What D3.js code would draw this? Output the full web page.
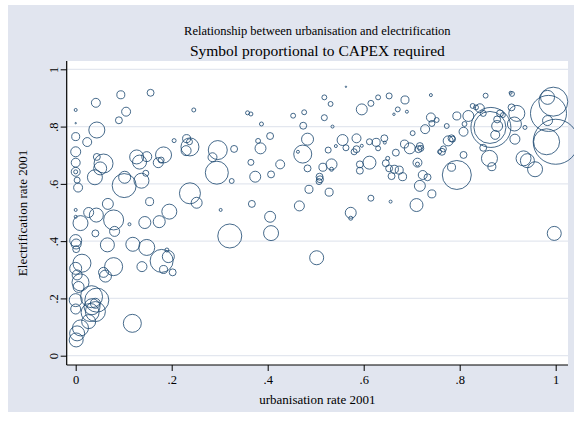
<!DOCTYPE html>
<html>
<head>
<meta charset="utf-8">
<script src="https://cdn.jsdelivr.net/npm/d3@7"></script>
<style>
  html, body { margin: 0; padding: 0; background: #ffffff; }
  svg { display: block; }
  text { font-family: "Liberation Serif", "DejaVu Serif", serif; fill: #000; }
</style>
</head>
<body>
<svg id="chart" width="574" height="421"></svg>
<script>
// Urbanisation rate 2001 (share of population), one value per district
const urbanisation = [
  0.000, 0.000, 0.000, 0.024, 0.044, 0.042, 0.094, 0.105, 0.090, 0.156,
  0.000, 0.000, 0.000, 0.000, 0.003, 0.005, 0.044, 0.058, 0.051, 0.040,
  0.102, 0.101, 0.137, 0.127, 0.133, 0.148, 0.146, 0.067, 0.154, 0.000,
  0.000, 0.010, 0.027, 0.043, 0.079, 0.081, 0.041, 0.112, 0.144, 0.174,
  0.195, 0.000, 0.001, 0.001, 0.066, 0.119, 0.148, 0.138, 0.013, 0.000,
  0.079, 0.062, 0.058, 0.010, 0.006, 0.003, 0.033, 0.044, 0.000, 0.000,
  0.034, 0.030, 0.041, 0.027, 0.003, 0.001, 0.010, 0.118, 0.041,
  0.246, 0.205, 0.231, 0.237, 0.238, 0.230, 0.183, 0.172, 0.178, 0.238,
  0.252, 0.179, 0.193, 0.183, 0.202, 0.190,
  0.358, 0.365, 0.387, 0.453, 0.476, 0.474, 0.296, 0.285, 0.330, 0.294,
  0.325, 0.365, 0.374, 0.385, 0.380, 0.405, 0.407, 0.426, 0.473, 0.463,
  0.483, 0.483, 0.302, 0.367, 0.405, 0.466, 0.321, 0.407, 0.486, 0.502,
  0.563, 0.518, 0.531, 0.630, 0.653, 0.615, 0.596, 0.686, 0.671, 0.663,
  0.690, 0.740, 0.518, 0.535, 0.526, 0.542, 0.556, 0.563, 0.585, 0.596,
  0.585, 0.580, 0.612, 0.626, 0.630, 0.643, 0.644, 0.612, 0.592, 0.592,
  0.533, 0.533, 0.515, 0.508, 0.509, 0.507, 0.528, 0.615, 0.656, 0.573,
  0.573, 0.650, 0.646, 0.653, 0.664, 0.674, 0.658, 0.681, 0.667, 0.685,
  0.696, 0.714, 0.717, 0.719, 0.702, 0.728, 0.740, 0.742, 0.752, 0.712,
  0.712, 0.723, 0.733, 0.717, 0.742, 0.710, 0.758,
  0.854, 0.906, 0.909, 0.983, 0.995, 0.985, 1.000, 0.981, 0.983, 0.936,
  0.919, 0.908, 0.914, 0.915, 0.865, 0.863, 0.878, 0.878, 0.884, 0.890,
  0.874, 0.827, 0.834, 0.842, 0.849, 0.818, 0.794, 0.773, 0.810, 0.808,
  0.783, 0.785, 0.776, 0.766, 0.763, 0.808, 0.849, 0.862, 0.867, 0.794,
  0.783, 0.933, 0.941, 0.957, 0.997
];

// Electrification rate 2001 (share of households), same order
const electrification = [
  0.858, 0.812, 0.765, 0.746, 0.788, 0.883, 0.911, 0.852, 0.822, 0.918,
  0.712, 0.674, 0.642, 0.642, 0.613, 0.587, 0.694, 0.671, 0.654, 0.623,
  0.623, 0.594, 0.611, 0.694, 0.676, 0.695, 0.637, 0.530, 0.538, 0.509,
  0.485, 0.463, 0.500, 0.491, 0.474, 0.434, 0.427, 0.459, 0.465, 0.468,
  0.503, 0.402, 0.390, 0.372, 0.387, 0.389, 0.378, 0.311, 0.323, 0.305,
  0.311, 0.278, 0.291, 0.256, 0.240, 0.282, 0.206, 0.194, 0.194, 0.163,
  0.171, 0.151, 0.183, 0.119, 0.078, 0.055, 0.097, 0.113, 0.154,
  0.858, 0.751, 0.758, 0.747, 0.729, 0.716, 0.701, 0.674, 0.683, 0.567,
  0.534, 0.331, 0.346, 0.301, 0.291, 0.369,
  0.848, 0.844, 0.809, 0.838, 0.850, 0.803, 0.718, 0.693, 0.722, 0.639,
  0.610, 0.675, 0.625, 0.724, 0.750, 0.767, 0.633, 0.668, 0.704, 0.712,
  0.654, 0.756, 0.509, 0.530, 0.485, 0.523, 0.418, 0.428, 0.581, 0.342,
  0.939, 0.902, 0.879, 0.902, 0.907, 0.881, 0.860, 0.893, 0.860, 0.843,
  0.852, 0.910, 0.831, 0.800, 0.718, 0.732, 0.753, 0.726, 0.759, 0.733,
  0.721, 0.712, 0.747, 0.745, 0.724, 0.759, 0.744, 0.674, 0.668, 0.646,
  0.668, 0.651, 0.658, 0.625, 0.616, 0.608, 0.571, 0.550, 0.538, 0.499,
  0.480, 0.689, 0.672, 0.654, 0.651, 0.648, 0.627, 0.625, 0.709, 0.739,
  0.724, 0.721, 0.732, 0.724, 0.777, 0.791, 0.832, 0.811, 0.823, 0.674,
  0.669, 0.631, 0.623, 0.593, 0.565, 0.526, 0.712,
  0.908, 0.918, 0.914, 0.902, 0.887, 0.846, 0.747, 0.747, 0.821, 0.797,
  0.846, 0.867, 0.809, 0.756, 0.797, 0.797, 0.802, 0.825, 0.846, 0.840,
  0.771, 0.872, 0.867, 0.864, 0.846, 0.837, 0.837, 0.802, 0.809, 0.782,
  0.759, 0.756, 0.750, 0.722, 0.712, 0.701, 0.726, 0.689, 0.660, 0.631,
  0.658, 0.689, 0.681, 0.651, 0.427
];

// CAPEX required (marker area is proportional to this value)
const capex = [
  4.5, 1, 32, 40, 128, 40, 32, 40, 24, 24,
  50, 40, 40, 8, 18, 40, 24, 180, 84, 112,
  72, 288, 112, 98, 98, 50, 18, 60, 32, 4.5,
  4.5, 112, 50, 98, 200, 50, 24, 4.5, 72, 72,
  112, 72, 50, 24, 98, 98, 128, 50, 162, 72,
  162, 72, 50, 144, 60, 50, 242, 288, 84, 50,
  128, 162, 50, 98, 112, 98, 128, 162, 200,
  8, 8, 32, 18, 162, 50, 128, 50, 18, 220,
  60, 264, 72, 32, 24, 8,
  8, 8, 8, 12, 12, 24, 180, 40, 24, 264,
  12, 18, 60, 60, 12, 24, 24, 40, 162, 4.5,
  24, 72, 4.5, 24, 60, 50, 288, 112, 32, 98,
  1, 12, 12, 12, 18, 18, 60, 32, 12, 3,
  4.5, 4.5, 18, 4.5, 18, 4.5, 60, 18, 40, 4.5,
  24, 18, 18, 32, 12, 24, 4.5, 84, 24, 24,
  60, 8, 32, 24, 24, 18, 32, 18, 4.5, 60,
  8, 8, 24, 24, 32, 32, 24, 32, 24, 32,
  60, 24, 24, 18, 12, 40, 40, 18, 12, 40,
  8, 40, 24, 60, 32, 84, 8,
  12, 4.5, 12, 98, 420, 648, 1012, 338, 50, 8,
  128, 24, 98, 50, 800, 512, 60, 24, 24, 12,
  40, 12, 12, 40, 18, 60, 32, 12, 12, 40,
  24, 18, 50, 18, 24, 24, 24, 128, 32, 420,
  32, 112, 98, 112, 98
];

const xTicks = [0, 0.2, 0.4, 0.6, 0.8, 1];
const xTickLabels = ["0", ".2", ".4", ".6", ".8", "1"];
const yTicks = [0, 0.2, 0.4, 0.6, 0.8, 1];
const yTickLabels = ["0", ".2", ".4", ".6", ".8", "1"];

const titleText = "Relationship between urbanisation and electrification";
const subtitleText = "Symbol proportional to CAPEX required";
const xTitle = "urbanisation rate 2001";
const yTitle = "Electrification rate 2001";

const points = urbanisation.map((u, i) => ({ u, e: electrification[i], c: capex[i] }));

const svg = d3.select("#chart");
const W = 574, H = 421;

// graph region and plot region
const plot = { left: 66.7, right: 568, top: 61, bottom: 365 };

svg.append("rect").attr("x", 8).attr("y", 5).attr("width", W - 8).attr("height", 407)
  .attr("fill", "#e1e5ef");
svg.append("rect").attr("x", plot.left).attr("y", plot.top)
  .attr("width", plot.right - plot.left).attr("height", plot.bottom - plot.top)
  .attr("fill", "#ffffff");

const x = d3.scaleLinear().domain([0, 1]).range([75.7, 555.7]);
const y = d3.scaleLinear().domain([0, 1]).range([355.7, 69.3]);
const r = d3.scaleSqrt().domain([0, 1012]).range([0, 22.5]);

// horizontal grid lines
svg.append("g").selectAll("line").data(yTicks).join("line")
  .attr("x1", plot.left).attr("x2", plot.right)
  .attr("y1", d => y(d)).attr("y2", d => y(d))
  .attr("stroke", "#e3e7ef").attr("stroke-width", 1.2);

// markers
svg.append("g").selectAll("circle")
  .data(points.slice().sort((a, b) => b.c - a.c))
  .join("circle")
  .attr("cx", d => x(d.u))
  .attr("cy", d => y(d.e))
  .attr("r", d => r(d.c))
  .attr("fill", "none")
  .attr("stroke", "#1a476f")
  .attr("stroke-opacity", 0.9)
  .attr("stroke-width", 0.9);

// axes
const xAxis = d3.axisBottom(x).tickValues(xTicks)
  .tickFormat((d, i) => xTickLabels[i]).tickSize(6).tickSizeOuter(0).tickPadding(4);
const gx = svg.append("g").attr("transform", `translate(0,${plot.bottom})`).call(xAxis);
gx.select(".domain").remove();
gx.selectAll(".tick line").attr("stroke", "#000");
gx.selectAll(".tick text").attr("font-size", "12.5px")
  .attr("font-family", "Liberation Serif, serif").attr("dy", "0.75em");

const yAxis = d3.axisLeft(y).tickValues(yTicks)
  .tickFormat((d, i) => yTickLabels[i]).tickSize(6).tickSizeOuter(0);
const gy = svg.append("g").attr("transform", `translate(${plot.left},0)`).call(yAxis);
gy.select(".domain").remove();
gy.selectAll(".tick line").attr("stroke", "#000");
gy.selectAll(".tick text")
  .attr("transform", "rotate(-90)")
  .attr("x", 0).attr("y", -8.5).attr("dy", 0)
  .attr("text-anchor", "middle")
  .attr("font-size", "12.5px")
  .attr("font-family", "Liberation Serif, serif");

svg.append("line").attr("x1", plot.left).attr("x2", plot.left)
  .attr("y1", plot.top).attr("y2", plot.bottom).attr("stroke", "#000").attr("stroke-width", 1.2);
svg.append("line").attr("x1", plot.left).attr("x2", plot.right)
  .attr("y1", plot.bottom).attr("y2", plot.bottom).attr("stroke", "#000").attr("stroke-width", 1.2);

// titles
const cx = (plot.left + plot.right) / 2;
svg.append("text").attr("x", cx).attr("y", 35).attr("text-anchor", "middle")
  .attr("font-size", "12.5px").text(titleText);
svg.append("text").attr("x", cx).attr("y", 56).attr("text-anchor", "middle")
  .attr("font-size", "15.5px").text(subtitleText);
svg.append("text").attr("x", cx).attr("y", 404).attr("text-anchor", "middle")
  .attr("font-size", "13px").text(xTitle);
svg.append("text").attr("transform", `translate(27,${(plot.top + plot.bottom) / 2}) rotate(-90)`)
  .attr("text-anchor", "middle").attr("font-size", "13px").text(yTitle);
</script>
</body>
</html>
